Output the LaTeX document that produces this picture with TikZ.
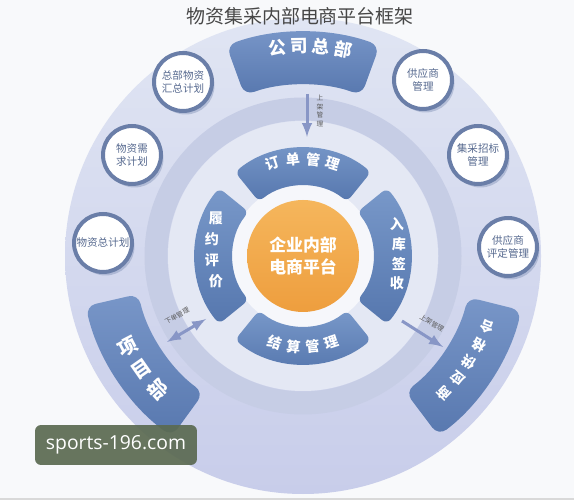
\documentclass[tikz,border=0pt]{standalone}
\usepackage{fontspec}
\newfontfamily\cjk{Noto Sans CJK SC}
\newfontfamily\wmfont{Open Sans}
\usepackage{tikz}
\usetikzlibrary{arrows,shadows}

\definecolor{bgpaper}{HTML}{F8F9FB}
\definecolor{disctop}{HTML}{E0E5F3}
\definecolor{discbot}{HTML}{C8CDEA}
\definecolor{bandgray}{HTML}{C6CDE5}
\definecolor{innerpale}{HTML}{E4E8F4}
\definecolor{corewhite}{HTML}{F6F7FB}
\definecolor{segtop}{HTML}{7898C9}
\definecolor{segbot}{HTML}{5677AE}
\definecolor{boxtop}{HTML}{7896C8}
\definecolor{boxbot}{HTML}{5878AF}
\definecolor{ringblue}{HTML}{6A7EA8}
\definecolor{circtext}{HTML}{56698F}
\definecolor{orangetop}{HTML}{F5B65C}
\definecolor{orangebot}{HTML}{EE9E3E}
\definecolor{arrowblue}{HTML}{8896C6}
\definecolor{titlegray}{HTML}{474747}
\definecolor{wmgreen}{HTML}{5B6A51}

% annular piece round (c): style, from, to, inner r, outer r
\newcommand\ringpiece[5]{%
  \path[#1] ([shift={(#2:#5)}]c) arc[start angle=#2,end angle=#3,radius=#5]
    -- ([shift={(#3:#4)}]c) arc[start angle=#3,end angle=#2,radius=#4] -- cycle;}

\begin{document}
\begin{tikzpicture}[x=0.02cm,y=0.02cm,
    smallcirc/.style={circle, fill=white, draw=ringblue, line width=0.08cm,
      minimum size=1.16cm, inner sep=0pt, align=center, text=circtext,
      font=\cjk\fontsize{6}{7.6}\selectfont,
      drop shadow={shadow xshift=0.05cm, shadow yshift=-0.07cm, fill=ringblue, opacity=0.35}},
    segpiece/.style={shade, top color=segtop, bottom color=segbot, rounded corners=0.12cm},
    boxpiece/.style={shade, top color=boxtop, bottom color=boxbot, rounded corners=0.2cm},
    segchar/.style={text=white, inner sep=0pt, font=\cjk\bfseries\fontsize{8}{8}\selectfont},
    boxchar/.style={text=white, inner sep=0pt, font=\cjk\bfseries\fontsize{10}{10}\selectfont},
    flowarrow/.style={draw=arrowblue, line width=0.06cm},
    tinylabel/.style={text=gray!70!black, inner sep=0pt, align=center,
      font=\cjk\fontsize{3.8}{4.8}\selectfont}]
      \fill[bgpaper] (0,0) rectangle (574,500);
      \useasboundingbox (0,0) rectangle (574,500);
      \coordinate (c) at (303,244);
      %%%%%%%%%%%%%%%%%%%%%%%%%%%%%%%%%%%%%%%%%%%%%%%
      \shade[top color=disctop, bottom color=discbot] (c) circle[radius=238];
      \draw[bandgray, line width=0.46cm] (c) circle[radius=147];
      \fill[innerpale] (c) circle[radius=135];
      \fill[corewhite] (c) circle[radius=72];
      \draw[gray!30, line width=0.04cm] (0,1) -- (574,1);
      %%%%%%%%%%%%%%%%%%%%%%%%%%%%%%%%%%%%%%%%%%%%%%%
      \node[text=titlegray, font=\cjk\fontsize{10.8}{13}\selectfont] (title) at (300,484) {物资集采内部电商平台框架};
      %%%%%%%%%%%%%%%%%%%%%%%%%%%%%%%%%%%%%%%%%%%%%%%
      \ringpiece{boxpiece}{70}{110}{171}{224}
      \ringpiece{boxpiece}{193}{234}{169}{223}
      \ringpiece{boxpiece}{-53}{-14}{170}{225}
      \node[boxchar, rotate=7]   (hq1) at (277.4,452.4) {公};
      \node[boxchar, rotate=1]   (hq2) at (299.3,454.0) {司};
      \node[boxchar, rotate=-5]  (hq3) at (321.3,453.2) {总};
      \node[boxchar, rotate=-11] (hq4) at (343.1,450.1) {部};
      \node[boxchar, rotate=27.5, font=\cjk\bfseries\fontsize{11}{11}\selectfont] (pj1) at (128.3,153.0) {项};
      \node[boxchar, rotate=35, font=\cjk\bfseries\fontsize{11}{11}\selectfont]   (pj2) at (141.6,131.0) {目};
      \node[boxchar, rotate=42.5, font=\cjk\bfseries\fontsize{11}{11}\selectfont] (pj3) at (157.8,110.9) {部};
      \node[boxchar, rotate=159, font=\cjk\bfseries\fontsize{7.8}{7.8}\selectfont]   (sp1) at (486.9,173.4) {合};
      \node[boxchar, rotate=153.2, font=\cjk\bfseries\fontsize{7.8}{7.8}\selectfont] (sp2) at (478.8,155.2) {格};
      \node[boxchar, rotate=147.4, font=\cjk\bfseries\fontsize{7.8}{7.8}\selectfont] (sp3) at (469.0,137.9) {供};
      \node[boxchar, rotate=141.6, font=\cjk\bfseries\fontsize{7.8}{7.8}\selectfont] (sp4) at (457.4,121.6) {应};
      \node[boxchar, rotate=135.8, font=\cjk\bfseries\fontsize{7.8}{7.8}\selectfont] (sp5) at (444.2,106.7) {商};
      %%%%%%%%%%%%%%%%%%%%%%%%%%%%%%%%%%%%%%%%%%%%%%%
      \node[smallcirc] (plan1) at (183,418) {总部物资\\汇总计划};
      \node[smallcirc] (plan2) at (132,345) {物资需\\求计划};
      \node[smallcirc] (plan3) at (103,257) {物资总计划};
      \node[smallcirc] (sup1)  at (423,420) {供应商\\管理};
      \node[smallcirc] (sup2)  at (478,345) {集采招标\\管理};
      \node[smallcirc] (sup3)  at (508,253) {供应商\\评定管理};
      %%%%%%%%%%%%%%%%%%%%%%%%%%%%%%%%%%%%%%%%%%%%%%%
      \ringpiece{segpiece}{51}{129}{70}{108}
      \ringpiece{segpiece}{141}{219}{70}{108}
      \ringpiece{segpiece}{231}{309}{70}{108}
      \ringpiece{segpiece}{-39}{39}{70}{108}
      \node[segchar, rotate=18]  (o1) at (273.0,336.3) {订};
      \node[segchar, rotate=6]   (o2) at (292.9,340.5) {单};
      \node[segchar, rotate=-6]  (o3) at (313.1,340.5) {管};
      \node[segchar, rotate=-18] (o4) at (333.0,336.3) {理};
      \node[segchar] (e1) at (216,282) {履};
      \node[segchar] (e2) at (212,261) {约};
      \node[segchar] (e3) at (212,240) {评};
      \node[segchar] (e4) at (216,219) {价};
      \node[segchar] (r1) at (397,276) {入};
      \node[segchar] (r2) at (399,256) {库};
      \node[segchar] (r3) at (399,236) {签};
      \node[segchar] (r4) at (397,217) {收};
      \node[segchar, rotate=-18] (s1) at (274.9,157.5) {结};
      \node[segchar, rotate=-6]  (s2) at (293.5,153.5) {算};
      \node[segchar, rotate=6]   (s3) at (312.5,153.5) {管};
      \node[segchar, rotate=18]  (s4) at (331.1,157.5) {理};
      %%%%%%%%%%%%%%%%%%%%%%%%%%%%%%%%%%%%%%%%%%%%%%%
      \shade[top color=orangetop, bottom color=orangebot] (c) circle[radius=56];
      \node[text=white, align=center, font=\cjk\bfseries\fontsize{9.6}{13}\selectfont] (core) at (c) {企业内部\\电商平台};
      %%%%%%%%%%%%%%%%%%%%%%%%%%%%%%%%%%%%%%%%%%%%%%%
      \coordinate (up1) at (307,406);
      \coordinate (up2) at (307,363);
      \coordinate (dn1) at (206,181);
      \coordinate (dn2) at (167,158);
      \coordinate (rt1) at (402,179);
      \coordinate (rt2) at (443,153);
      \draw[flowarrow, -latex] (up1) -- (up2);
      \draw[flowarrow, latex-latex] (dn1) -- (dn2);
      \draw[flowarrow, -latex] (rt1) -- (rt2);
      \node[tinylabel] (uplab) at (320,389) {上\\架\\管\\理};
      \node[tinylabel, rotate=29] (dnlab) at (177,184) {下单管理};
      \node[tinylabel, rotate=-31] (rtlab) at (432,177) {上架管理};
      %%%%%%%%%%%%%%%%%%%%%%%%%%%%%%%%%%%%%%%%%%%%%%%
      \node[fill=wmgreen, fill opacity=0.92, text opacity=1, text=white, rounded corners=0.12cm,
            minimum width=3.24cm, minimum height=0.8cm, inner sep=0pt,
            font=\wmfont\fontsize{11}{13}\selectfont] (wm) at (116,55) {sports-196.com};
\end{tikzpicture}
\end{document}
